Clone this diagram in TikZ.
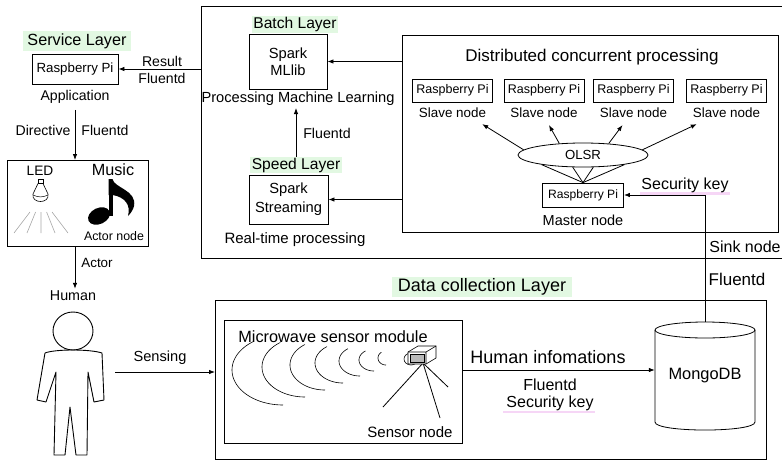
\documentclass[tikz,border=0pt]{standalone}
\usepackage{fontspec}
\setmainfont{Liberation Sans}
\usetikzlibrary{arrows.meta,shapes.geometric,calc}
\definecolor{layergreen}{RGB}{226,248,226}
\definecolor{keypink}{RGB}{246,214,246}
\newcommand\fsz[1]{\fontsize{#1}{#1}\selectfont}
\begin{document}
\begin{tikzpicture}[x=1pt,y=-1pt,
  frame/.style={draw, line width=0.9pt, inner sep=0pt},
  pibox/.style={draw, line width=0.8pt, inner sep=0pt, minimum height=23, font=\fsz{12.5}},
  txt/.style={inner sep=0pt, font=\fsz{#1}},
  txt/.default=14,
  layer/.style={fill=layergreen, inner xsep=1.5pt, inner ysep=1pt, font=\fsz{#1}},
  arr/.style={-{Latex[length=6pt,width=4.5pt]}, line width=0.8pt},
  ln/.style={line width=0.8pt},
  thin/.style={line width=0.6pt},
]
\useasboundingbox (0,0) rectangle (782,461);

% ---------- processing region (open to the right) ----------
\node[frame, anchor=north west, minimum width=600, minimum height=252] (upper) at (201,6) {};

% distributed cluster
\node[frame, anchor=north west, minimum width=376, minimum height=197] (dist) at (402,35) {};
\node[txt=17] (disttitle) at (592,57) {Distributed concurrent processing};
\foreach \i/\x in {1/452.5, 2/544, 3/633.5, 4/726.5} {
  \node[pibox, minimum width=80] (s\i) at (\x,90.5) {Raspberry Pi};
  \node[txt=13.4] (sl\i) at (\x,113) {Slave node};
}
\node[draw, ellipse, line width=0.8pt, minimum width=130, minimum height=24, inner sep=0pt, font=\fsz{13.2}] (olsr) at (583,155) {OLSR};
\node[pibox, minimum width=81, minimum height=24, font=\fsz{12.1}] (master) at (583,195) {Raspberry Pi};
\node[txt=14.5] (masterlab) at (583,220) {Master node};

\draw[arr] (olsr.175) -- ([shift={(-4,6)}]sl1.south east);
\draw[arr] (olsr.154) -- ([shift={(5,7)}]sl2.south);
\draw[arr] (olsr.24) -- ([shift={(-11,7)}]sl3.south);
\draw[arr] (olsr.5) -- ([shift={(4,6)}]sl4.south west);
\foreach \a in {193,230,310,347} \draw[ln] (master.north) -- (olsr.\a);

% batch and speed layers
\node[layer=15.6] (batch) at (295,24.5) {Batch Layer};
\node[frame, minimum width=78, minimum height=55, align=center, font=\fontsize{14.7}{17}\selectfont] (mllib) at (288,61.5) {Spark\\MLlib};
\node[txt=14.65] (pml) at (298,99) {Processing Machine Learning};
\draw[arr] (dist.west |- mllib.east) -- (mllib.east);

\node[layer=15.6] (speed) at (296,165) {Speed Layer};
\node[frame, minimum width=79, minimum height=49, align=center, font=\fontsize{14.7}{19}\selectfont] (stream) at (288.5,199.5) {Spark\\Streaming};
\node[txt=15] (rtp) at (295,240) {Real-time processing};
\draw[arr] (dist.west |- stream.east) -- (stream.east);
\draw[arr] (speed.north) -- ([yshift=-2pt]speed.north |- pml.south);
\node[txt=14.2] (fl1) at (327,133) {Fluentd};

% sink link
\node[txt=16.4, minimum width=100, minimum height=108] (mongo) at (705,376) {MongoDB};
\fill[keypink] (640,192) rectangle (730,194.5);
\node[txt=16] (seckey1) at (685,185) {Security key};
\draw[arr] (mongo.north) |- (master.east);
\node[txt=16] (sink) at (745,247) {Sink node};
\node[txt=17] (fl2) at (737,279) {Fluentd};

% ---------- service layer ----------
\node[layer=16.2, inner xsep=4pt, inner ysep=2.5pt] (svclayer) at (77,41) {Service Layer};
\node[pibox, minimum width=86, minimum height=30, font=\fsz{13.3}] (svc) at (75,69) {Raspberry Pi};
\draw[arr] (upper.west |- svc.east) -- (svc.east);
\node[txt=14.1] (res) at (162,61) {Result};
\node[txt=14.1] (fl3) at (162,78) {Fluentd};
\node[txt=14.1] (app) at (75,97) {Application};

\node[frame, anchor=north west, minimum width=141, minimum height=86] (actor) at (7,160) {};
\draw[arr] ([yshift=-6pt]app.south) -- (app.south |- actor.north);
\node[txt=14.1] (dir) at (43,130) {Directive};
\node[txt=14.1] (fl4) at (105,130) {Fluentd};

% actor devices
\node[txt=13.7] (led) at (40,171) {LED};
\node[txt=16.2] (music) at (113,170) {Music};
\node[txt=12.4] (actnode) at (114,236) {Actor node};
% light bulb
\draw[thin] (38,179) rectangle (43,183.5);
\draw[thin] (38,183.5) -- (33,194) .. controls (31,204) and (50,204) .. (48,194) -- (43,183.5);
\draw[line width=0.5pt] (33,195) .. controls (38,197.5) and (43,197.5) .. (48,195);
\draw[gray!70, line width=0.6pt]
  (30,212) -- (14,233)  (35.6,212) -- (27,233)  (41,212) -- (41,233)
  (46.6,212) -- (55,233)  (52,212) -- (68,233);
% eighth note
\fill[rotate around={25:(99,216)}] (99,216) ellipse [x radius=11.5, y radius=8];
\fill (108.5,216) rectangle (112.5,180);
\fill (108.5,179) -- (112.5,179) .. controls (114,188) and (137,190) .. (134,206)
  .. controls (133,210) and (131,213) .. (128,216)
  .. controls (131,205) and (125,197) .. (112.5,195) -- (108.5,195) -- cycle;

% ---------- human ----------
\node[txt=14.3] (human) at (73,296) {Human};
\draw[arr] (app.south |- actor.south) -- ([yshift=2pt]app.south |- human.north);
\node[txt=13.4] (actlab) at (97,263) {Actor};
\draw[line width=0.9pt] (73,331) ellipse [x radius=20, y radius=19];
\draw[line width=0.9pt, line join=round]
  (45,353) -- (37,400) -- (46,402) -- (56,372) -- (54,455) -- (65,455) -- (70,407)
  -- (76,455) -- (87,455) -- (88,372) -- (94,402) -- (104,400) -- (102,353)
  .. controls (90,349) and (55,349) .. (45,353);
\coordinate (humanR) at (115,372);

% ---------- data collection layer ----------
\node[frame, anchor=north west, minimum width=551, minimum height=159] (dcl) at (215,300) {};
\draw[arr] (humanR) -- (humanR -| dcl.west);
\node[txt=14.6] (sens) at (160,358) {Sensing};
\node[layer=18, inner xsep=5.5pt, inner ysep=1.5pt] (dcllab) at (482,287) {Data collection Layer};

\node[frame, anchor=north west, minimum width=238, minimum height=123] (micro) at (224,320) {};
\node[txt=16.3] (microlab) at (333,337) {Microwave sensor module};
\node[txt=15] (sensnode) at (410,432) {Sensor node};

% microwave fronts
\foreach \cx/\cy/\rx/\ry in {283/370/51/35, 305/367/43/30, 325/365/35/25, 343/363/28/20,
                             360/361/21/15, 374/360/15/11, 386/358/8/7}
  \draw[thin] plot[domain=235:90, samples=40, smooth] ({\cx+\rx*cos(\x)},{\cy+\ry*sin(\x)});

% sensor on tripod
\draw[thin] (411,359) ellipse [x radius=7, y radius=6];
\draw[ln] (423,363) -- (383,407) (423,363) -- (440,418) (423,363) -- (448,387);
\filldraw[fill=white, thin] (408,352) -- (418,346) -- (436,346) -- (436,358) -- (426,364) -- (408,364) -- cycle;
\draw[thin] (408,352) -- (426,352) -- (436,346) (426,352) -- (426,364);
\filldraw[fill=gray!55, line width=0.9pt] (410,354) rectangle (424,362);

% database
\draw[ln] (705,330) ellipse [x radius=50, y radius=8];
\draw[ln] (655,330) -- (655,422) .. controls (655,432.7) and (755,432.7) .. (755,422) -- (755,330);

\draw[arr] (micro.east |- 0,370) -- (mongo.west |- 0,370);
\node[txt=18] (hinfo) at (548,357) {Human infomations};
\fill[keypink] (503,410.5) rectangle (595,413);
\node[txt=16] (fl5) at (550,385) {Fluentd};
\node[txt=16] (seckey2) at (550,403) {Security key};
\end{tikzpicture}
\end{document}
